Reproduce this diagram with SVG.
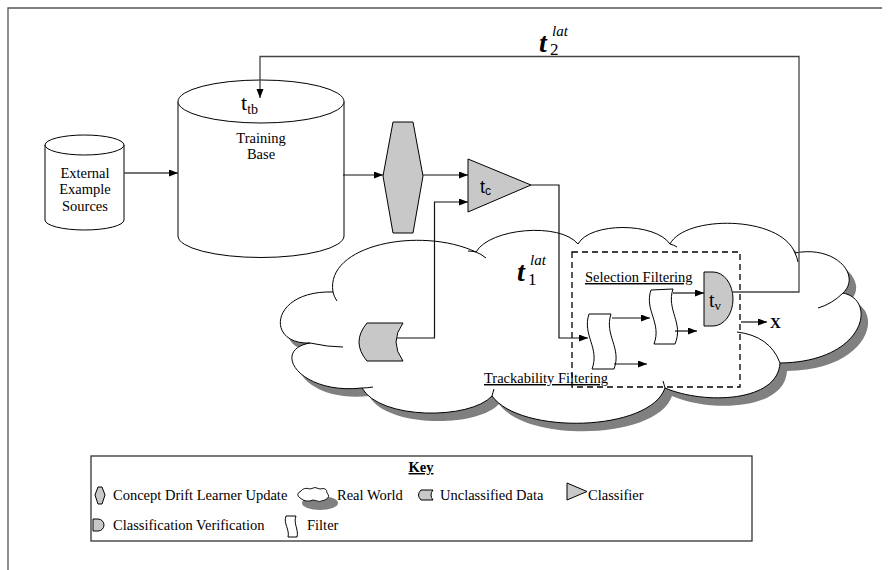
<svg xmlns="http://www.w3.org/2000/svg" width="890" height="570" viewBox="0 0 890 570">
<defs>
  <marker id="ah" markerUnits="userSpaceOnUse" markerWidth="10" markerHeight="8" refX="9" refY="3.5" orient="auto">
    <path d="M0,0 L9,3.5 L0,7 Z" fill="#000"/>
  </marker>
  <path id="cloudShape" d="M310,343 C265,345 270,290 333,292 C325,245 420,226 476,252 C490,228 560,222 578,244 C590,222 655,222 670,244 C685,215 780,215 795,253 C835,245 862,275 843,293 C878,300 865,362 780,363 C778,402 705,405 665,388 C650,432 520,435 492,396 C470,420 380,420 362,388 C300,395 270,350 310,343 Z"/>
</defs>
<style>
  text{font-family:'Liberation Serif','Times New Roman','DejaVu Serif',serif;fill:#000}
  .sans{font-family:'Liberation Sans',Arial,'DejaVu Sans',sans-serif}
  .body{font-size:14.5px}
  .outline{fill:#fff;stroke:#000;stroke-width:1}
  .gray{fill:#c8c8c8;stroke:#000;stroke-width:1}
  .conn{fill:none;stroke:#111;stroke-width:1.2}
  .fb{fill:none;stroke:#444;stroke-width:1.3}
  .tail{fill:none;stroke:#000;stroke-width:1}
  .ul{text-decoration:underline}
</style>

<rect width="890" height="570" fill="#fff"/>
<path d="M8,570 V8 H882" fill="none" stroke="#555" stroke-width="1.3"/>

<!-- Real world cloud -->
<g id="real-world">
  <use href="#cloudShape" transform="translate(7,8)" fill="#808080"/>
  <use href="#cloudShape" fill="#fff" stroke="#000" stroke-width="1"/>
  <path class="tail" d="M333,292 Q334,297 337,301"/>
  <path class="tail" d="M310,343 Q328,347 343,347"/>
  <path class="tail" d="M362,388 Q367,388 373,387"/>
  <path class="tail" d="M476,252 Q481,254 486,258"/>
  <path class="tail" d="M476,252 Q472,251 468,251"/>
  <path class="tail" d="M670,244 Q674,245 677,247"/>
  <path class="tail" d="M795,253 Q797,257 798,262"/>
  <path class="tail" d="M843,293 Q832,304 818,308"/>
  <path class="tail" d="M737,332 Q770,336 780,363"/>
  <path class="tail" d="M665,388 Q664,384 663,381"/>
  <path class="tail" d="M492,396 Q493,392 494,389"/>
</g>

<g id="external-sources">
  <path class="outline" d="M45,145 V220 A39.5,10 0 0 0 124,220 V145"/>
  <ellipse class="outline" cx="84.5" cy="145" rx="39.5" ry="10"/>
  <text class="body" text-anchor="middle" x="85" y="178" font-family="'Liberation Serif', 'DejaVu Serif', serif">External</text>
  <text class="body" text-anchor="middle" x="85" y="194" font-family="'Liberation Serif', 'DejaVu Serif', serif">Example</text>
  <text class="body" text-anchor="middle" x="85" y="211" font-family="'Liberation Serif', 'DejaVu Serif', serif">Sources</text>
</g>

<g id="training-base">
  <path class="outline" d="M178,101.5 V236 A83,21.5 0 0 0 344,236 V101.5"/>
  <ellipse class="outline" cx="261" cy="101.5" rx="83" ry="21.5"/>
  <text x="241" y="110" font-size="22">t<tspan font-size="14" dy="4">tb</tspan></text>
  <text class="body" text-anchor="middle" x="261" y="143">Training</text>
  <text class="body" text-anchor="middle" x="261" y="159">Base</text>
</g>

<g id="learner-update">
  <path class="gray" d="M393,122 H413 L423,176 L413,233 H393 L383,176 Z"/>
</g>

<g id="classifier">
  <path class="gray" d="M468,159 L531,185 L468,212 Z"/>
  <text class="sans" x="480" y="193" font-size="18">t<tspan font-size="12" dy="2">c</tspan></text>
</g>

<g id="unclassified-data">
  <path class="gray" d="M367,323 H403 Q389,342 403,361 H367 Q351,342 367,323 Z"/>
</g>

<g id="filter-group">
  <rect x="572" y="252" width="168" height="135" fill="none" stroke="#000" stroke-width="1.3" stroke-dasharray="6,4"/>
  <text class="body ul" x="585" y="282">Selection Filtering</text>
  <text class="body ul" x="484" y="383">Trackability Filtering</text>
</g>

<g id="filter-1">
  <path class="outline" d="M589,314 L611,314 C604,335 622,348 614,369 L592,369 C600,348 582,335 589,314 Z"/>
</g>

<g id="filter-2">
  <path class="outline" d="M651,290 L673,289 C666,310 684,323 675,344 L654,344 C662,323 644,310 651,290 Z"/>
</g>

<g id="verification">
  <path class="gray" d="M704,272 H713 A20,27 0 0 1 713,326 H704 Z"/>
  <text x="709" y="307" font-size="20">t<tspan font-size="13" dy="3">v</tspan></text>
</g>

<g id="latency-labels">
  <text x="517" y="281" font-size="28" font-weight="bold" font-style="italic">t</text>
  <text x="530" y="265" font-size="15" font-style="italic">lat</text>
  <text x="528" y="285" font-size="17">1</text>
  <text x="539" y="52" font-size="28" font-weight="bold" font-style="italic">t</text>
  <text x="552" y="36" font-size="15" font-style="italic">lat</text>
  <text x="550" y="55" font-size="17">2</text>
</g>

<g id="connectors">
  <path class="fb" d="M124,173 H178" marker-end="url(#ah)"/>
  <path class="conn" d="M343,175 H383" marker-end="url(#ah)"/>
  <path class="conn" d="M423,175 H468" marker-end="url(#ah)"/>
  <path class="conn" d="M397,338 H434.5 V202 H468" marker-end="url(#ah)"/>
  <path class="conn" d="M531,185 H559 V338 H588" marker-end="url(#ah)"/>
  <path class="conn" d="M612,318 H650" marker-end="url(#ah)"/>
  <path class="conn" d="M614,364 H647" marker-end="url(#ah)"/>
  <path class="conn" d="M673,293 H704" marker-end="url(#ah)"/>
  <path class="conn" d="M675,331 H697" marker-end="url(#ah)"/>
  <path class="fb" d="M733,292 H799 V56.5 H260 V98" marker-end="url(#ah)"/>
  <path class="conn" d="M741,322 H767" marker-end="url(#ah)"/>
  <text x="770" y="328" font-size="15" font-weight="bold">X</text>
</g>

<g id="key">
  <rect x="91" y="456" width="661" height="85" fill="#fff" stroke="#333" stroke-width="1.3"/>
  <text class="body ul" x="421" y="472" text-anchor="middle" font-weight="bold">Key</text>
  <path class="gray" d="M98,487 H102 L105,495 L102,504 H98 L95,495 Z"/>
  <text class="body" x="113" y="500">Concept Drift Learner Update</text>
  <ellipse cx="320" cy="503" rx="18" ry="7" fill="#808080"/>
  <path d="M300,498 Q295,494 301,491 Q304,487 310,489 Q315,486 320,489 Q327,487 327,493 Q331,497 325,500 Q320,503 313,500 Q306,503 300,498 Z" fill="#fff" stroke="#000" stroke-width="0.9"/>
  <text class="body" x="337" y="500">Real World</text>
  <path class="gray" d="M421,490 H433 Q429,495 433,500 H421 Q416,495 421,490 Z"/>
  <text class="body" x="440" y="500">Unclassified Data</text>
  <path class="gray" d="M567,483 L587,491.5 L567,500 Z"/>
  <text class="body" x="588" y="500">Classifier</text>
  <path class="gray" d="M93,519 H98 A6,6 0 0 1 98,531 H93 Z"/>
  <text class="body" x="113" y="530">Classification Verification</text>
  <path class="outline" d="M286,516 H296 C293,523 299,530 297,537 H288 C290,530 283,523 286,516 Z"/>
  <text class="body" x="307" y="530">Filter</text>
</g>
</svg>
